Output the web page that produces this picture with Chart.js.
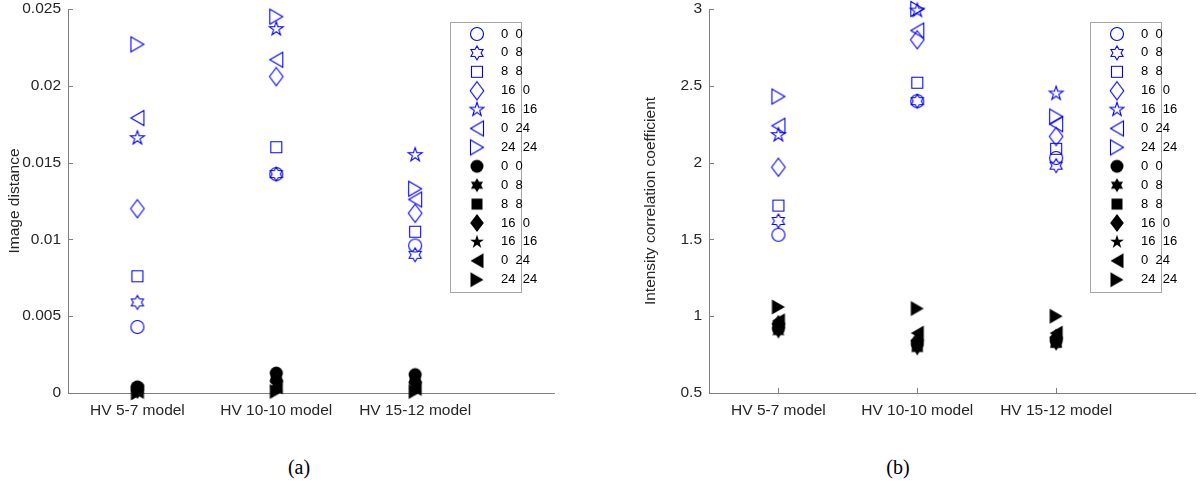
<!DOCTYPE html>
<html lang="en">
<head>
<meta charset="UTF-8">
<title>Image distance / intensity correlation</title>
<script src="https://cdn.jsdelivr.net/npm/chart.js"></script>
<style>
    body {
        margin: 0;
        background: #fff;
        width: 1200px;
        height: 481px;
        position: relative;
        overflow: hidden;
    }
    .panel {
        position: absolute;
        top: 0;
        width: 600px;
        height: 430px;
    }
    .caption {
        position: absolute;
        top: 455px;
        width: 100px;
        line-height: 24px;
        text-align: center;
        font-family: 'Liberation Serif', 'Times New Roman', serif;
        font-size: 20px;
        color: #000;
    }
</style>
</head>
<body>
<div class="panel" style="left:0"><canvas id="distChart" width="600" height="430"></canvas></div>
<div class="panel" style="left:600px"><canvas id="corrChart" width="600" height="430"></canvas></div>
<div class="caption" style="left:249px">(a)</div>
<div class="caption" style="left:848px">(b)</div>

<script>
    const models = ['HV 5-7 model', 'HV 10-10 model', 'HV 15-12 model'];
    const shifts = ['0  0', '0  8', '8  8', '16  0', '16  16', '0  24', '24  24'];
    const markerShapes = ['circle', 'hexagram', 'square', 'diamond', 'pentagram', 'triLeft', 'triRight'];

    // (a) image distance: one row per shift, one column per model
    const distOpen = [
        [0.0043, 0.01425, 0.0096],
        [0.0059, 0.01425, 0.0090],
        [0.0076, 0.0160, 0.0105],
        [0.0120, 0.0206, 0.0117],
        [0.0166, 0.0237, 0.0155],
        [0.0179, 0.0217, 0.0126],
        [0.0227, 0.0245, 0.0133]
    ];
    const distFilled = [
        [0.0004, 0.0013, 0.0012],
        [0.0003, 0.0011, 0.0010],
        [0.0003, 0.0010, 0.0009],
        [0.0002, 0.0008, 0.0007],
        [0.0002, 0.0006, 0.0005],
        [0.0001, 0.0004, 0.0003],
        [0.0000, 0.0001, 0.0001]
    ];
    const distTicks = [0, 0.005, 0.01, 0.015, 0.02, 0.025];
    const distTickLabels = ['0', '0.005', '0.01', '0.015', '0.02', '0.025'];

    // (b) intensity correlation coefficient
    const corrOpen = [
        [1.53, 2.40, 2.03],
        [1.62, 2.40, 1.98],
        [1.72, 2.52, 2.09],
        [1.97, 2.80, 2.17],
        [2.18, 2.99, 2.45],
        [2.24, 2.86, 2.25],
        [2.43, 3.00, 2.30]
    ];
    const corrFilled = [
        [0.92, 0.82, 0.84],
        [0.90, 0.79, 0.82],
        [0.93, 0.81, 0.83],
        [0.95, 0.84, 0.86],
        [0.94, 0.83, 0.85],
        [0.97, 0.89, 0.89],
        [1.06, 1.05, 1.00]
    ];
    const corrTicks = [0.5, 1, 1.5, 2, 2.5, 3];
    const corrTickLabels = ['0.5', '1', '1.5', '2', '2.5', '3'];

    const axisColor = '#7f7f7f';
    const textColor = '#262626';
    const sans = "'Liberation Sans', Arial, Helvetica, sans-serif";

    // matlab-like marker glyphs drawn on small canvases
    function makeMarker(shape, filled) {
        const c = document.createElement('canvas');
        c.width = 22;
        c.height = 22;
        const ctx = c.getContext('2d');
        ctx.translate(11, 11);
        ctx.beginPath();
        const poly = pts => {
            pts.forEach(([x, y], i) => i ? ctx.lineTo(x, y) : ctx.moveTo(x, y));
            ctx.closePath();
        };
        const star = (n, ro, ri) => {
            const pts = [];
            for (let k = 0; k < 2 * n; k++) {
                const a = -Math.PI / 2 + k * Math.PI / n;
                const r = k % 2 ? ri : ro;
                pts.push([r * Math.cos(a), r * Math.sin(a)]);
            }
            poly(pts);
        };
        switch (shape) {
            case 'circle': ctx.arc(0, 0, 6.5, 0, 2 * Math.PI); break;
            case 'hexagram': star(6, 7, 4.1); break;
            case 'square': ctx.rect(-5.5, -5.5, 11, 11); break;
            case 'diamond': poly([[0, -9], [6.8, 0], [0, 9], [-6.8, 0]]); break;
            case 'pentagram': star(5, 7.3, 2.8); break;
            case 'triLeft': poly([[-6.5, 0], [6.5, -7.5], [6.5, 7.5]]); break;
            case 'triRight': poly([[6.5, 0], [-6.5, -7.5], [-6.5, 7.5]]); break;
        }
        if (filled) {
            ctx.fillStyle = '#000';
            ctx.fill();
        } else {
            ctx.strokeStyle = '#0000ff';
            ctx.lineWidth = 1.1;
            ctx.stroke();
        }
        return c;
    }

    function buildDatasets(open, filled) {
        const sets = [];
        [open, filled].forEach((rows, f) => {
            rows.forEach((row, i) => {
                sets.push({
                    label: shifts[i],
                    data: row.map((v, j) => ({ x: j + 1, y: v })),
                    pointStyle: makeMarker(markerShapes[i], f === 1),
                    pointRadius: 7,
                    showLine: false,
                    clip: false
                });
            });
        });
        return sets;
    }

    // boxed legend inside the axes + inward tick marks
    const boxLegend = {
        id: 'boxLegend',
        beforeDatasetsDraw(chart) {
            const { ctx, chartArea: a, scales: { x, y } } = chart;
            ctx.save();
            ctx.strokeStyle = axisColor;
            ctx.lineWidth = 1;
            ctx.beginPath();
            y.ticks.forEach(t => {
                const py = Math.round(y.getPixelForValue(t.value)) + 0.5;
                ctx.moveTo(a.left, py);
                ctx.lineTo(a.left + 5, py);
            });
            x.ticks.forEach(t => {
                const px = Math.round(x.getPixelForValue(t.value)) + 0.5;
                ctx.moveTo(px, a.bottom);
                ctx.lineTo(px, a.bottom - 5);
            });
            ctx.stroke();
            ctx.restore();
        },
        afterDraw(chart, args, opts) {
            const ctx = chart.ctx;
            ctx.save();
            ctx.fillStyle = '#fff';
            ctx.fillRect(opts.left, opts.top, opts.width, opts.height);
            ctx.strokeStyle = '#a6a6a6';
            ctx.lineWidth = 1;
            ctx.strokeRect(opts.left + 0.5, opts.top + 0.5, opts.width, opts.height);
            ctx.font = '13px ' + sans;
            ctx.fillStyle = '#000';
            ctx.textBaseline = 'middle';
            chart.data.datasets.forEach((ds, i) => {
                const yy = opts.top + 12 + i * opts.rowH;
                const img = ds.pointStyle;
                ctx.drawImage(img, opts.markerX - img.width / 2, yy - img.height / 2);
                ctx.fillText(ds.label, opts.textX, yy);
            });
            ctx.restore();
        }
    };

    function makeOptions(ticks, tickLabels, title, axisWidth, titlePad, padRight, legendLeft) {
        return {
            responsive: false,
            animation: false,
            layout: { padding: { left: 0, right: padRight, top: 9, bottom: 0 }, autoPadding: false },
            plugins: {
                legend: { display: false },
                tooltip: { enabled: false },
                boxLegend: {
                    left: legendLeft, top: 22, width: 71, height: 270,
                    markerX: legendLeft + 27, textX: legendLeft + 51, rowH: 18.9
                }
            },
            scales: {
                x: {
                    type: 'linear',
                    min: 0.5,
                    max: 4,
                    grid: { display: false, drawTicks: false },
                    border: { display: true, color: axisColor, width: 1 },
                    afterBuildTicks: s => { s.ticks = models.map((m, i) => ({ value: i + 1 })); },
                    afterFit: s => { s.height = 37; s.paddingLeft = 0; s.paddingRight = 0; },
                    ticks: {
                        autoSkip: false,
                        maxRotation: 0,
                        padding: 8,
                        color: textColor,
                        font: { family: sans, size: 15.5 },
                        callback: v => models[v - 1]
                    }
                },
                y: {
                    min: ticks[0],
                    max: ticks[ticks.length - 1],
                    grid: { display: false, drawTicks: false },
                    border: { display: true, color: axisColor, width: 1 },
                    afterBuildTicks: s => { s.ticks = ticks.map(v => ({ value: v })); },
                    afterFit: s => { s.width = axisWidth; s.paddingTop = 0; s.paddingBottom = 0; },
                    ticks: {
                        padding: 7,
                        color: textColor,
                        font: { family: sans, size: 15.5 },
                        callback: (v, i) => tickLabels[i]
                    },
                    title: {
                        display: true,
                        text: title,
                        color: textColor,
                        padding: { top: titlePad, bottom: 0 },
                        font: { family: sans, size: 15.5 }
                    }
                }
            }
        };
    }

    new Chart(document.getElementById('distChart'), {
        type: 'scatter',
        data: { datasets: buildDatasets(distOpen, distFilled) },
        options: makeOptions(distTicks, distTickLabels, 'Image distance', 68, 5, 46, 450),
        plugins: [boxLegend]
    });

    new Chart(document.getElementById('corrChart'), {
        type: 'scatter',
        data: { datasets: buildDatasets(corrOpen, corrFilled) },
        options: makeOptions(corrTicks, corrTickLabels, 'Intensity correlation coefficient', 109, 41, 5, 490),
        plugins: [boxLegend]
    });
</script>
</body>
</html>
